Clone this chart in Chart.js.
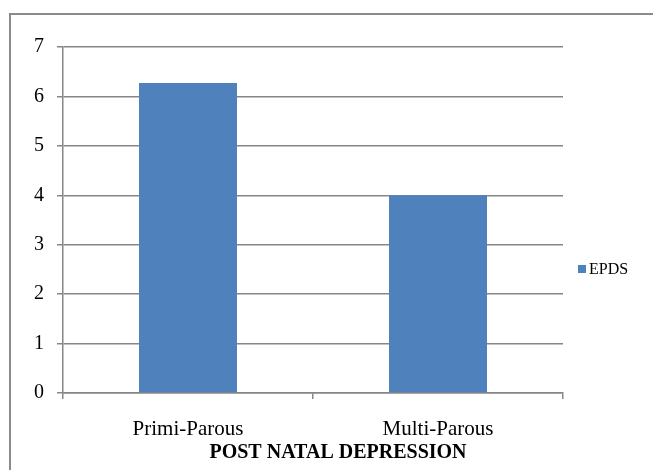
<!DOCTYPE html>
<html>
<head>
<meta charset="utf-8">
<script src="https://cdn.jsdelivr.net/npm/chart.js@4"></script>
<style>
  html, body { margin: 0; padding: 0; background: #fff; overflow: hidden; }
  #wrap { position: relative; width: 653px; height: 470px; overflow: hidden; }
  #frame { position: absolute; left: 9px; top: 13px; width: 700px; height: 500px;
           border-left: 2px solid #8a8a8a; border-top: 2px solid #8a8a8a; }
  canvas { position: absolute; left: 0; top: 0; }
</style>
</head>
<body>
<div id="wrap">
  <div id="frame"></div>
  <canvas id="c" width="653" height="470"></canvas>
</div>
<script>
// Categories, series values and axis settings
const categories = ['Primi-Parous', 'Multi-Parous'];
const seriesName = 'EPDS';
const epdsValues = [6.27, 4.0];
const yMin = 0;
const yMax = 7;
const yStep = 1;
const xTitle = 'POST NATAL DEPRESSION';

const SERIF = '"Liberation Serif", "Times New Roman", Times, serif';
const GRID = '#868686';
const BAR = '#4f81bd';

// Small legend to the right of the plot, plus the axis caption under the labels
const sideLegend = {
  id: 'sideLegend',
  afterDraw(chart) {
    const ctx = chart.ctx;
    const ds = chart.data.datasets[0];
    const area = chart.chartArea;
    const x = area.right + 15;
    const y = 269;
    ctx.save();
    ctx.fillStyle = ds.backgroundColor;
    ctx.fillRect(x, y - 4, 8, 8);
    ctx.fillStyle = '#000';
    ctx.font = '16px ' + SERIF;
    ctx.textAlign = 'left';
    ctx.textBaseline = 'middle';
    ctx.fillText(ds.label, x + 11, y + 1);

    ctx.font = 'bold 20px ' + SERIF;
    ctx.textAlign = 'center';
    ctx.fillText(xTitle, (area.left + area.right) / 2 + 25, 453);
    ctx.restore();
  }
};

new Chart(document.getElementById('c'), {
  type: 'bar',
  data: {
    labels: categories,
    datasets: [{
      label: seriesName,
      data: epdsValues,
      backgroundColor: BAR,
      borderWidth: 0,
      categoryPercentage: 1.0,
      barPercentage: 0.392
    }]
  },
  options: {
    responsive: false,
    animation: false,
    devicePixelRatio: 1,
    layout: { padding: { top: 47, right: 90, left: 0, bottom: 0 } },
    plugins: {
      legend: { display: false },
      tooltip: { enabled: false }
    },
    scales: {
      x: {
        offset: true,
        afterFit(scale) { scale.height = 77; },
        grid: {
          offset: true,
          drawOnChartArea: false,
          drawTicks: true,
          tickLength: 6,
          color: GRID,
          lineWidth: 1.5
        },
        border: { display: true, color: GRID, width: 1.5 },
        ticks: {
          color: '#000',
          padding: 18,
          font: { family: SERIF, size: 21 }
        }
      },
      y: {
        min: yMin,
        max: yMax,
        afterFit(scale) { scale.width = 63; },
        ticks: {
          stepSize: yStep,
          color: '#000',
          padding: 13,
          font: { family: SERIF, size: 20 }
        },
        grid: {
          color: GRID,
          lineWidth: 1.5,
          drawTicks: true,
          tickLength: 6
        },
        border: { display: true, color: GRID, width: 1.5 }
      }
    }
  },
  plugins: [sideLegend]
});
</script>
</body>
</html>
